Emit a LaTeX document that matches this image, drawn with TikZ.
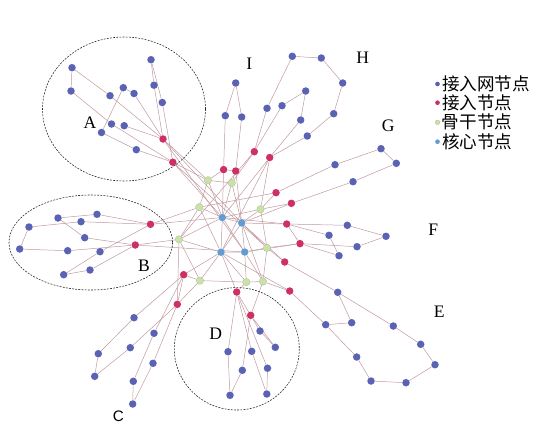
\documentclass[tikz,border=0pt]{standalone}
\usepackage{fontspec}
\setmainfont{Liberation Serif}
\newfontfamily\cjk{Noto Sans CJK SC}
\newfontfamily\lblsans{Liberation Sans}
\usepackage{tikz}
\usetikzlibrary{backgrounds}

\definecolor{leafblue}{RGB}{90,98,180}
\definecolor{accred}{RGB}{206,48,100}
\definecolor{bbgreen}{RGB}{202,226,168}
\definecolor{coreblue}{RGB}{98,156,210}
\definecolor{linkcol}{RGB}{192,152,158}

\tikzset{
  pt/.style={circle,inner sep=0pt,minimum size=0.225cm},
  leaf/.style={pt,fill=leafblue},
  access/.style={pt,fill=accred},
  backbone/.style={pt,fill=bbgreen,draw=bbgreen!80!black,line width=0.2pt},
  core/.style={pt,fill=coreblue},
  link/.style={linkcol,line width=0.42pt},
  zone/.style={black!85,line width=0.5pt,dash pattern=on 1.6pt off 1.1pt},
  zonelbl/.style={font=\fontsize{15}{15}\selectfont},
  legdot/.style={circle,inner sep=0pt,minimum size=0.14cm},
  legtxt/.style={anchor=west,inner sep=0pt,font=\cjk\fontsize{15}{15}\selectfont}
}

\begin{document}
\begin{tikzpicture}[x=0.03cm,y=-0.03cm]
  \useasboundingbox (0,0) rectangle (550,434);

  % zones
  \draw[zone] (124,109) ellipse [x radius=81.5,y radius=72];
  \draw[zone] (90.8,242.5) ellipse [x radius=81.8,y radius=47.5];
  \draw[zone] (236.8,348.8) ellipse [x radius=62.5,y radius=61.2];

  % leaf nodes
  \foreach \n/\x/\y in {a1/72/67.7, a2/71/91, a3/110/95.7, a4/123.3/87.7, a5/134/93.5,
      a6/151/59.7, a7/154/85.2, a8/162.3/102.5, a9/111.5/124, a10/124.2/125.7,
      a11/101.5/132.5, a12/136.3/149.7,
      b1/58/218, b2/97/214.3, b3/81/221.7, b4/29/227, b5/84.7/237.7, b6/19.7/249,
      b7/67.7/250.7, b8/100/251.7, b9/90/270, b10/63.7/274.7,
      c1/134/317.7, c2/154/333.3, c3/98.3/353.7, c4/130.3/347.7, c5/94.7/376.3,
      c6/153/363.3, c7/133.3/381.3, c8/132.7/404,
      d1/260/331, d2/275.3/347.3, d3/228/351.7, d4/251.7/351.3, d5/242.3/370.3,
      d6/267.5/368.2, d7/230/395.3, d8/266.8/394,
      e1/337.7/292.3, e2/351.7/322.7, e3/325.7/324.7, e4/393.3/326, e5/420.7/344.3,
      e6/356.7/357, e7/435/364.7, e8/371/381, e9/406/382.7,
      f1/347.3/225.3, f2/329/235.3, f3/386/236.3, f4/357/246.7, f5/339/255.7,
      g1/381/148.7, g2/396.3/163.3, g3/335/164.7, g4/353/181.7,
      h1/292.3/56.3, h2/321.3/58, h3/342.7/83, h4/333.7/113.7, h5/307.3/136,
      h6/305.7/91, h7/282/105.7, h8/267/108.3, h9/300.7/120,
      i1/235.7/83, i2/225.3/115.7, i3/241.7/117}
    \node[leaf] (\n) at (\x,\y) {};

  % access nodes
  \foreach \n/\x/\y in {ra1/163/139, ra2/172.8/162.2, rb1/150.5/224.3, rb2/135.3/245,
      rc1/183.7/274.7, rc2/177.3/304.3, rd1/236.7/292, rd2/250.7/315.3,
      re1/284.7/262, re2/289.7/291, rf1/286.7/224, rf2/300/243.6,
      rg1/276/192.7, rg2/291.4/203.3, rh1/254.3/151.7, rh2/269.7/157.5,
      ri1/223.6/169.6, ri2/235.7/171}
    \node[access] (\n) at (\x,\y) {};

  % backbone nodes
  \foreach \n/\x/\y in {bb1/208/180.3, bb2/231.7/183, bb3/199.3/207.2, bb4/260.5/209.3,
      bb5/179/239.4, bb6/267/247.8, bb7/200/280.6, bb8/246.3/282.1, bb9/263/281.5}
    \node[backbone] (\n) at (\x,\y) {};

  % core nodes
  \foreach \n/\x/\y in {co1/222.3/217.5, co2/241.7/223, co3/221/252.2, co4/244.7/252}
    \node[core] (\n) at (\x,\y) {};

  % links
  \begin{scope}[on background layer]
    \foreach \u/\v in {a1/a2, a1/a3, a3/ra1, a2/a9, a9/ra2, a4/a11, a4/a5, a5/ra1,
        a6/a7, a6/a8, a7/ra1, a8/ra2, a10/ra1, a11/a12, a12/ra2,
        b1/b2, b2/rb1, b4/b3, b3/rb1, b1/b5, b5/rb2, b4/b6, b6/b7, b7/rb2,
        b10/b9, b9/rb2, b10/b8, b8/rb1,
        rc1/c1, c1/c3, c3/c5, c5/c4, c4/rc2, rc1/c2, c2/c7, c7/c8, c8/c6, c6/rc2,
        rd1/rd2, rd1/d3, d3/d7, d7/d5, d5/rd2, rd1/d4, d4/d8, d8/d6, d6/rd1,
        rd2/d1, d1/d2, rd2/d2,
        re1/e1, e1/e2, e1/e4, e4/e5, e5/e7, e7/e9, e9/e8, e8/e6, e6/e3, e2/e3, e3/re2,
        rf1/f1, f1/f3, f3/f4, f4/rf2, rf1/f2, f2/f5, f5/rf2,
        rg1/g3, g3/g1, g1/g2, g2/g4, g4/rg2,
        h1/h2, h2/h3, h3/h4, h4/h5, h5/rh2, h1/h8, h8/rh1, h6/h7, h7/rh1, h6/h9, h9/rh2,
        i1/i2, i1/i3, i2/ri1, i3/ri2, ri1/ri2}
      \draw[link] (\u) -- (\v);
    % backbone and core mesh
    \foreach \u/\v in {co1/co2, co1/co3, co2/co4, co3/co4, co1/co4, co2/co3,
        bb1/co1, bb2/co2, bb2/co1, bb3/co1, bb3/co3, bb4/co2, bb4/co1,
        bb5/co3, bb5/co1, bb6/co2, bb6/co4, bb7/co3, bb8/co4, bb8/co3, bb9/co4, bb9/co2,
        bb1/bb2, bb1/bb3, bb3/bb5, bb5/bb7, bb7/bb8, bb8/bb9, bb9/bb6, bb6/bb4,
        ra1/bb1, ra1/co2, ra1/co4, ra2/bb1, ra2/co1, ra2/bb6,
        ri1/bb1, ri1/co1, ri2/bb2, ri2/co2,
        rh1/bb2, rh1/bb5, rh2/bb4, rh2/co1, rh2/co3,
        rg1/bb4, rg1/bb3, rg2/bb4, rg2/co2,
        rf1/co2, rf1/co1, rf2/bb6, rf2/co4, rf1/rf2,
        re1/bb6, re1/co2, re2/bb9, re2/co3,
        rd1/bb8, rd1/co3, rd2/bb9,
        rc1/bb7, rc1/co3, rc1/rc2, rc2/bb7, rc2/bb5,
        rb1/co1, rb1/bb3, rb2/bb5, rb2/co4}
      \draw[link] (\u) -- (\v);
  \end{scope}

  % zone labels
  \node[zonelbl] (lA) at (90,123) {A};
  \node[zonelbl] (lB) at (144,266) {B};
  \node[zonelbl,font=\lblsans\fontsize{13}{13}\selectfont] (lC) at (118.3,416.7) {C};
  \node[zonelbl] (lD) at (215.7,334) {D};
  \node[zonelbl] (lE) at (439.3,311.7) {E};
  \node[zonelbl] (lF) at (433.3,230) {F};
  \node[zonelbl] (lG) at (388.3,126) {G};
  \node[zonelbl] (lH) at (362.7,57.3) {H};
  \node[zonelbl] (lI) at (249.3,63.3) {I};

  % legend
  \node[legdot,fill=leafblue] (k1) at (437.5,84) {};
  \node[legdot,fill=accred] (k2) at (437.5,102.7) {};
  \node[legdot,fill=bbgreen,draw=bbgreen!80!black,line width=0.2pt] (k3) at (437.5,122.3) {};
  \node[legdot,fill=coreblue] (k4) at (437.5,141.7) {};
  \node[legtxt] at ([xshift=1.5pt]k1.east) {接入网节点};
  \node[legtxt] at ([xshift=1.5pt]k2.east) {接入节点};
  \node[legtxt] at ([xshift=1.5pt]k3.east) {骨干节点};
  \node[legtxt] at ([xshift=1.5pt]k4.east) {核心节点};
\end{tikzpicture}
\end{document}
